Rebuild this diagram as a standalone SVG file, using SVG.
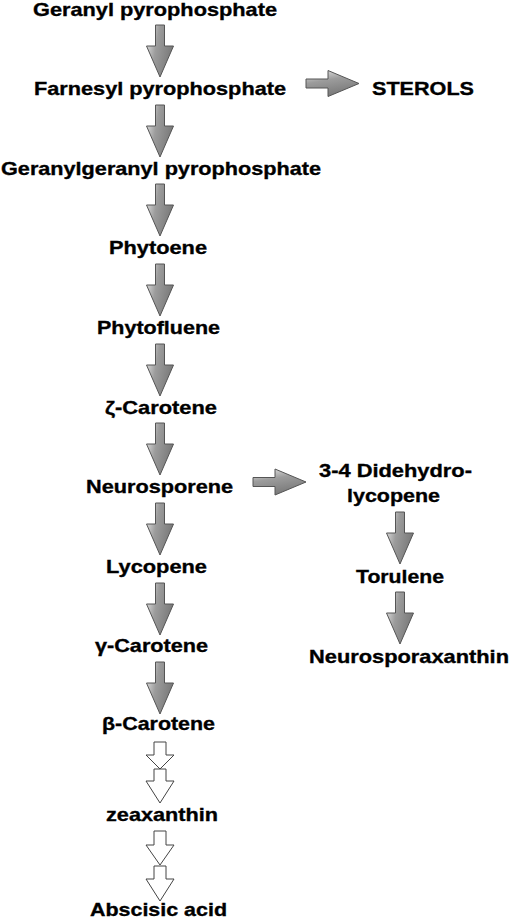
<svg xmlns="http://www.w3.org/2000/svg" xmlns:xlink="http://www.w3.org/1999/xlink" width="511" height="920" viewBox="0 0 511 920">
  <style>
    .t { font-family: "Liberation Sans", Arial, sans-serif; font-weight: bold; font-size: 19px; fill: #000; stroke: #000; stroke-width: 0.35; }
    .ga { stroke: #555; stroke-width: 1; stroke-linejoin: miter; }
    .down { fill: url(#gDown); }
    .right { fill: url(#gRight); }
    .hollow { fill: #fff; stroke: #444; stroke-width: 1; }
  </style>
  <defs>
    <linearGradient id="gDown" x1="0" y1="0" x2="1" y2="0.35">
      <stop offset="0" stop-color="#ececec"/>
      <stop offset="0.45" stop-color="#9c9c9c"/>
      <stop offset="1" stop-color="#7a7a7a"/>
    </linearGradient>
    <linearGradient id="gRight" x1="0" y1="0" x2="0.35" y2="1">
      <stop offset="0" stop-color="#ececec"/>
      <stop offset="0.45" stop-color="#9c9c9c"/>
      <stop offset="1" stop-color="#7a7a7a"/>
    </linearGradient>
    <path id="dArrow" d="M-4.5,0 H4.5 V21 H13.5 L0,52 L-13.5,21 H-4.5 Z"/>
    <path id="rArrow" d="M0,-4.5 H22 V-13 L53,0 L22,13 V4.5 H0 Z"/>
  </defs>

  <g id="connectors">
    <use xlink:href="#dArrow" class="ga down" x="160" y="25"/>
    <use xlink:href="#dArrow" class="ga down" x="160" y="105"/>
    <use xlink:href="#dArrow" class="ga down" x="160" y="184"/>
    <use xlink:href="#dArrow" class="ga down" x="160" y="264"/>
    <use xlink:href="#dArrow" class="ga down" x="160" y="344"/>
    <use xlink:href="#dArrow" class="ga down" x="160" y="423"/>
    <use xlink:href="#dArrow" class="ga down" x="160" y="503"/>
    <use xlink:href="#dArrow" class="ga down" x="160" y="583"/>
    <use xlink:href="#dArrow" class="ga down" x="160" y="662"/>
    <use xlink:href="#dArrow" class="ga down" x="400" y="512"/>
    <use xlink:href="#dArrow" class="ga down" x="400" y="592"/>
    <use xlink:href="#rArrow" class="ga right" x="306" y="83.5"/>
    <use xlink:href="#rArrow" class="ga right" x="253" y="482"/>
    <path class="hollow" d="M154,742 H166 V755 H174 L160,769 L146,755 H154 Z"/>
    <path class="hollow" d="M154,769 H166 V781 H174 L160,803 L146,781 H154 Z"/>
    <path class="hollow" d="M154,831 H166 V845 H174 L160,865 L146,845 H154 Z"/>
    <path class="hollow" d="M154,866 H166 V879 H174 L160,901 L146,879 H154 Z"/>
  </g>

  <g id="geranyl-pp"><text class="t" x="33" y="16" textLength="244" lengthAdjust="spacingAndGlyphs">Geranyl pyrophosphate</text></g>
  <g id="farnesyl-pp"><text class="t" x="34" y="95" textLength="252" lengthAdjust="spacingAndGlyphs">Farnesyl pyrophosphate</text></g>
  <g id="sterols"><text class="t" x="372" y="95" textLength="102" lengthAdjust="spacingAndGlyphs">STEROLS</text></g>
  <g id="geranylgeranyl-pp"><text class="t" x="1" y="175" textLength="320" lengthAdjust="spacingAndGlyphs">Geranylgeranyl pyrophosphate</text></g>
  <g id="phytoene"><text class="t" x="109" y="254" textLength="98" lengthAdjust="spacingAndGlyphs">Phytoene</text></g>
  <g id="phytofluene"><text class="t" x="97" y="334" textLength="123" lengthAdjust="spacingAndGlyphs">Phytofluene</text></g>
  <g id="zeta-carotene"><text class="t" x="105" y="414" textLength="112" lengthAdjust="spacingAndGlyphs">ζ-Carotene</text></g>
  <g id="neurosporene"><text class="t" x="86" y="493" textLength="147" lengthAdjust="spacingAndGlyphs">Neurosporene</text></g>
  <g id="lycopene"><text class="t" x="106" y="573" textLength="101" lengthAdjust="spacingAndGlyphs">Lycopene</text></g>
  <g id="gamma-carotene"><text class="t" x="95" y="652" textLength="113" lengthAdjust="spacingAndGlyphs">γ-Carotene</text></g>
  <g id="beta-carotene"><text class="t" x="102" y="730" textLength="113" lengthAdjust="spacingAndGlyphs">β-Carotene</text></g>
  <g id="zeaxanthin"><text class="t" x="106" y="821" textLength="112" lengthAdjust="spacingAndGlyphs">zeaxanthin</text></g>
  <g id="abscisic-acid"><text class="t" x="90" y="916" textLength="137" lengthAdjust="spacingAndGlyphs">Abscisic acid</text></g>
  <g id="didehydrolycopene">
    <text class="t" x="319" y="477" textLength="153" lengthAdjust="spacingAndGlyphs">3-4 Didehydro-</text>
    <text class="t" x="347" y="502" textLength="93" lengthAdjust="spacingAndGlyphs">lycopene</text>
  </g>
  <g id="torulene"><text class="t" x="356" y="583" textLength="88" lengthAdjust="spacingAndGlyphs">Torulene</text></g>
  <g id="neurosporaxanthin"><text class="t" x="309" y="663" textLength="200" lengthAdjust="spacingAndGlyphs">Neurosporaxanthin</text></g>
</svg>
